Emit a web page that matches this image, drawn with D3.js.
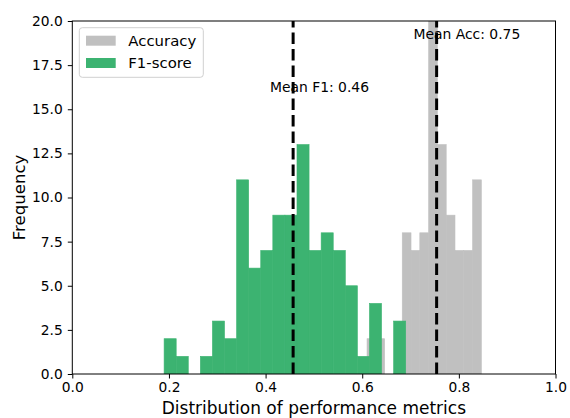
<!DOCTYPE html>
<html>
<head>
<meta charset="utf-8">
<script src="https://cdn.jsdelivr.net/npm/d3@7"></script>
<style>
  html, body { margin: 0; padding: 0; background: #fff; }
  svg { display: block; font-family: "DejaVu Sans", sans-serif; }
</style>
</head>
<body>
<svg id="chart" width="570" height="418"></svg>
<script>
// Histogram counts per bin for each metric
const f1Start = 0.19;
const f1BinWidth = 0.025;
const f1Counts = [2, 1, 0, 1, 3, 2, 11, 6, 7, 9, 9, 13, 7, 8, 7, 5, 1, 4, 0, 3];

const accStart = 0.610;
const accBinWidth = 0.0182;
const accCounts = [2, 2, 0, 0, 8, 7, 8, 26, 13, 9, 7, 7, 11];

const meanF1 = 0.457;
const meanAcc = 0.754;

const xTicks = [0, 0.2, 0.4, 0.6, 0.8, 1.0];
const yTicks = [0, 2.5, 5, 7.5, 10, 12.5, 15, 17.5, 20];

const seriesNames = ["Accuracy", "F1-score"];
const seriesColors = ["#c0c0c0", "#3cb371"];

const W = 570, H = 418;
const margin = { left: 72.3, right: W - 555.5, top: 21, bottom: H - 374 };
const innerW = W - margin.left - margin.right;
const innerH = H - margin.top - margin.bottom;

const svg = d3.select("#chart");
const g = svg.append("g").attr("transform", `translate(${margin.left},${margin.top})`);

const x = d3.scaleLinear().domain([0, 1]).range([0, innerW]);
const y = d3.scaleLinear().domain([0, 20]).range([innerH, 0]);

svg.append("defs").append("clipPath").attr("id", "plot-clip")
  .append("rect").attr("width", innerW).attr("height", innerH);

const plot = g.append("g").attr("clip-path", "url(#plot-clip)");

function toBins(start, width, counts) {
  return counts.map((c, i) => ({ x0: start + i * width, x1: start + (i + 1) * width, count: c }));
}

const accBins = toBins(accStart, accBinWidth, accCounts);
const f1Bins = toBins(f1Start, f1BinWidth, f1Counts);

// Accuracy first, F1 drawn on top
[[accBins, seriesColors[0]], [f1Bins, seriesColors[1]]].forEach(([bins, color]) => {
  plot.append("g").selectAll("rect")
    .data(bins.filter(d => d.count > 0))
    .join("rect")
    .attr("x", d => x(d.x0))
    .attr("width", d => x(d.x1) - x(d.x0))
    .attr("y", d => y(d.count))
    .attr("height", d => y(0) - y(d.count))
    .attr("fill", color)
    .attr("stroke", color)
    .attr("stroke-width", 0.6);
});

// Mean lines, drawn from the axis bottom upward
[meanF1, meanAcc].forEach(m => {
  plot.append("line")
    .attr("x1", x(m)).attr("x2", x(m))
    .attr("y1", innerH).attr("y2", 0)
    .attr("stroke", "#000")
    .attr("stroke-width", 3)
    .attr("stroke-dasharray", "11.5,5");
});

// Mean annotations
const annot = [
  { text: `Mean F1: ${meanF1.toFixed(2)}`, xv: meanF1 - 0.048, yv: 16 },
  { text: `Mean Acc: ${meanAcc.toFixed(2)}`, xv: meanAcc - 0.048, yv: 19 }
];
g.selectAll("text.annot").data(annot).join("text")
  .attr("class", "annot")
  .attr("x", d => x(d.xv))
  .attr("y", d => y(d.yv))
  .attr("font-size", 13.9)
  .attr("fill", "#000")
  .text(d => d.text);

// Axes
const fmt = d3.format(".1f");
const xAxis = g.append("g").attr("transform", `translate(0,${innerH})`)
  .call(d3.axisBottom(x).tickValues(xTicks).tickFormat(fmt).tickSize(4.5).tickPadding(4));
const yAxis = g.append("g")
  .call(d3.axisLeft(y).tickValues(yTicks).tickFormat(fmt).tickSize(4.5).tickPadding(5));
[xAxis, yAxis].forEach(a => {
  a.select(".domain").remove();
  a.selectAll("text").attr("font-size", 13.8).attr("font-family", "DejaVu Sans").attr("fill", "#000");
  a.selectAll("line").attr("stroke", "#000").attr("stroke-width", 1);
});

// Frame
g.append("rect")
  .attr("width", innerW).attr("height", innerH)
  .attr("fill", "none").attr("stroke", "#000").attr("stroke-width", 1);

// Axis labels
g.append("text")
  .attr("x", innerW / 2).attr("y", 414 - margin.top)
  .attr("text-anchor", "middle").attr("font-size", 17)
  .text("Distribution of performance metrics");
svg.append("text")
  .attr("transform", `translate(25,${margin.top + innerH / 2}) rotate(-90)`)
  .attr("text-anchor", "middle").attr("font-size", 16.6)
  .text("Frequency");

// Legend
const lg = svg.append("g").attr("transform", "translate(79.3,27.7)");
lg.append("rect")
  .attr("width", 124).attr("height", 49.6).attr("rx", 3)
  .attr("fill", "#fff").attr("fill-opacity", 0.8)
  .attr("stroke", "#d0d0d0").attr("stroke-width", 1);
seriesNames.forEach((name, i) => {
  const row = lg.append("g").attr("transform", `translate(0,${i * 22.3})`);
  row.append("rect").attr("x", 6.7).attr("y", 8).attr("width", 29.7).attr("height", 10)
    .attr("fill", seriesColors[i]);
  row.append("text").attr("x", 49).attr("y", 18).attr("font-size", 14.9).text(name);
});
</script>
</body>
</html>
